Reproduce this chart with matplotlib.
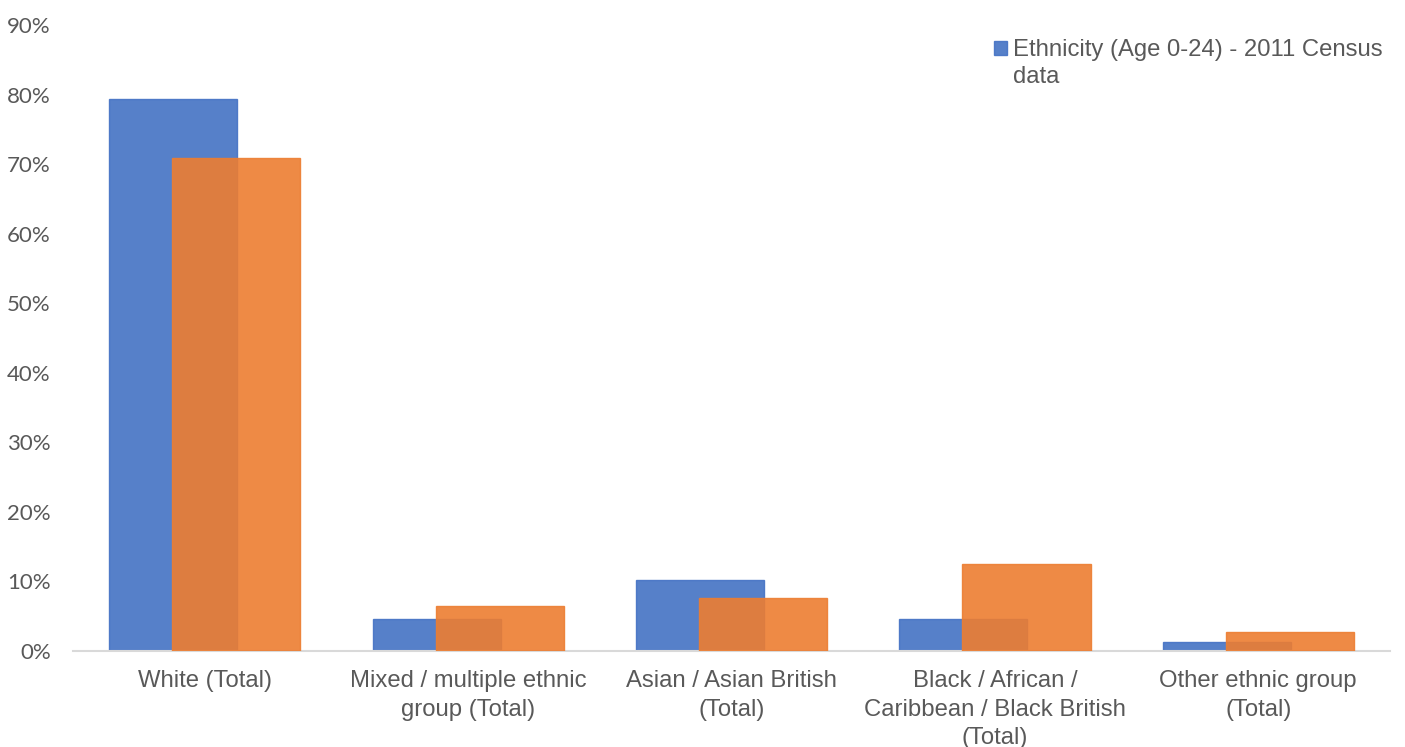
import matplotlib
matplotlib.use("Agg")
import matplotlib.pyplot as plt
import numpy as np
from matplotlib.patches import Patch
from matplotlib.transforms import offset_copy

categories = [
    "White (Total)",
    "Mixed / multiple ethnic\ngroup (Total)",
    "Asian / Asian British\n(Total)",
    "Black / African /\nCaribbean / Black British\n(Total)",
    "Other ethnic group\n(Total)",
]
census_2011 = [0.794, 0.046, 0.1025, 0.046, 0.0125]
second_series = [0.709, 0.064, 0.076, 0.1255, 0.027]
y_ticks = [0, 0.1, 0.2, 0.3, 0.4, 0.5, 0.6, 0.7, 0.8, 0.9]
y_labels = ["0%", "10%", "20%", "30%", "40%", "50%", "60%", "70%", "80%", "90%"]
legend_lines = ["Ethnicity (Age 0-24) - 2011 Census", "data"]

BLUE = "#4472C4"
ORANGE = "#ED7D31"
TEXT = "#595959"
FONT = "Liberation Sans"
SIZE = 17.2

fig = plt.figure(figsize=(14.05, 7.47), dpi=100)
ax = fig.add_axes([0.052, 0.1285, 0.9373, 0.838])

x = np.arange(len(categories))
width = 0.486
shift = 0.12
ax.bar(x - shift, census_2011, width, color=BLUE, alpha=0.9,
       edgecolor=BLUE, linewidth=1.0, zorder=2)
ax.bar(x + shift, second_series, width, color=ORANGE, alpha=0.9,
       edgecolor=ORANGE, linewidth=1.0, zorder=3)

ax.set_xlim(-0.5, len(categories) - 0.5)
ax.set_ylim(0, 0.9)
ax.set_yticks(y_ticks)
ax.set_yticklabels(y_labels, fontsize=16, color=TEXT, family="Lato")
ax.set_xticks(x)
ax.set_xticklabels(categories, fontsize=SIZE, color=TEXT,
                   family=FONT, linespacing=1.36)
ax.tick_params(axis="both", length=0)
ax.tick_params(axis="x", pad=14)
ax.tick_params(axis="y", pad=16)

for side in ["top", "right", "left"]:
    ax.spines[side].set_visible(False)
ax.spines["bottom"].set_color("#D9D9D9")
ax.spines["bottom"].set_linewidth(1.5)

# legend: first line beside the swatch, wrapped remainder underneath
handle = Patch(facecolor=BLUE, edgecolor=BLUE, alpha=0.9)
leg = fig.legend([handle], [legend_lines[0]], loc="upper left",
                 bbox_to_anchor=(0.692, 0.976), frameon=False,
                 handlelength=0.55, handleheight=0.55, handletextpad=0.25,
                 prop={"family": FONT, "size": SIZE})
leg_text = leg.get_texts()[0]
leg_text.set_color(TEXT)

fig.canvas.draw()
bb = leg_text.get_window_extent()
x0, y0 = fig.transFigure.inverted().transform((bb.x0, bb.y0))
fig.text(x0, y0, legend_lines[1], ha="left", va="bottom", color=TEXT,
         family=FONT, fontsize=SIZE,
         transform=offset_copy(fig.transFigure, fig=fig, y=-27, units="dots"))

fig.savefig("out.png", dpi=100)
